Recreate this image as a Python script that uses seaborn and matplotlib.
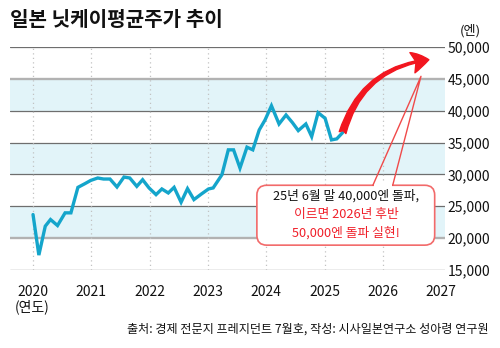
import numpy as np
import pandas as pd
import seaborn as sns
import matplotlib.pyplot as plt
from matplotlib.patches import FancyBboxPatch, FancyArrowPatch, Polygon

# ---------------- data ----------------
years = [2020.00, 2020.10, 2020.21, 2020.30, 2020.42, 2020.55, 2020.65, 2020.77,
         2020.89, 2020.99, 2021.11, 2021.21, 2021.32, 2021.44, 2021.56, 2021.66,
         2021.78, 2021.88, 2021.99, 2022.11, 2022.21, 2022.32, 2022.42, 2022.54,
         2022.65, 2022.76, 2022.89, 2023.01, 2023.09, 2023.24, 2023.35, 2023.44,
         2023.55, 2023.67, 2023.77, 2023.88, 2023.98, 2024.09, 2024.22, 2024.34,
         2024.45, 2024.55, 2024.68, 2024.78, 2024.89, 2025.01, 2025.12, 2025.21,
         2025.31]
prices = [23700, 17340, 21880, 22920, 21980, 23970, 23970, 27970,
          28550, 29060, 29440, 29280, 29280, 28030, 29590, 29440,
          28130, 29170, 27880, 26830, 27720, 27090, 27970, 25630,
          27770, 26050, 26940, 27720, 27880, 29950, 33860, 33860,
          31000, 34280, 33860, 36980, 38550, 40780, 37920, 39330,
          38130, 36880, 37920, 35940, 39690, 38810, 35420, 35580,
          36560]

x_ticks = [2020, 2021, 2022, 2023, 2024, 2025, 2026, 2027]
x_labels = ["2020", "2021", "2022", "2023", "2024", "2025", "2026", "2027"]
y_ticks = [15000, 20000, 25000, 30000, 35000, 40000, 45000, 50000]
y_labels = ["15,000", "20,000", "25,000", "30,000", "35,000", "40,000", "45,000", "50,000"]
band_lows = [20000, 30000, 40000]
light_lines = [20000, 45000]

title = "일본 닛케이평균주가 추이"
unit_label = "(엔)"
year_label = "(연도)"
source = "출처: 경제 전문지 프레지던트 7월호, 작성: 시사일본연구소 성아령 연구원"
callout_lines = ["25년 6월 말 40,000엔 돌파,", "이르면 2026년 후반", "50,000엔 돌파 실현!"]
callout_colors = ["#111111", "#f0202a", "#f0202a"]

target_year, target_value = 2026.79, 48000   # arrow head
pointer_year, pointer_value = 2026.655, 45400  # callout pointer tip

# ---------------- style ----------------
sns.set_theme(style="white")
plt.rcParams["font.family"] = ["Noto Sans CJK KR", "DejaVu Sans"]

line_color = "#14a5cb"
band_color = "#e2f4f9"
red = "#f2161f"

W, H = 500, 348
fig = plt.figure(figsize=(W / 100, H / 100), dpi=100)
ax = fig.add_axes([10 / W, 1 - 270 / H, 435 / W, 223 / H])

ax.set_xlim(2019.605, 2027.067)
ax.set_ylim(15000, 50000)

for lo in band_lows:
    ax.axhspan(lo, lo + 5000, color=band_color, lw=0, zorder=0)
for v in y_ticks:
    if v in light_lines:
        ax.axhline(v, color="#b2b2b2", lw=1.7, zorder=1)
    else:
        ax.axhline(v, color="#6e6e6e", lw=0.9, zorder=1)
for yr in x_ticks[:-1]:
    ax.axvline(yr, color="#c2c2c2", lw=0.9, ls=(0, (1, 2.6)), zorder=1.5)

df = pd.DataFrame({"year": years, "price": prices})
sns.lineplot(data=df, x="year", y="price", color=line_color, lw=2.4, ax=ax,
             zorder=3, sort=False)
for l in ax.lines[-1:]:
    l.set_solid_joinstyle("miter")

for s in ax.spines.values():
    s.set_visible(False)
ax.set_xlabel("")
ax.set_ylabel("")
ax.yaxis.tick_right()
ax.set_yticks(y_ticks)
ax.set_yticklabels(y_labels)
ax.set_xticks(x_ticks)
ax.set_xticklabels(x_labels)
ax.tick_params(axis="y", length=0, pad=2, labelsize=10, colors="#111111")
ax.tick_params(axis="x", length=0, pad=11, labelsize=10, colors="#111111")

# red arrow
arrow = FancyArrowPatch((years[-1], prices[-1]), (target_year, target_value),
                        arrowstyle="fancy,head_length=12,head_width=15,tail_width=5",
                        connectionstyle="arc3,rad=-0.33", color=red,
                        mutation_scale=1, shrinkA=0, shrinkB=0, zorder=4)
ax.add_patch(arrow)

# callout box
bx0, bx1, by0, by1 = 2023.84, 2026.89, 18900, 28300
box = FancyBboxPatch((bx0, by0), bx1 - bx0, by1 - by0,
                     boxstyle="round,pad=0,rounding_size=0.17",
                     mutation_aspect=9109, fc="white", ec="#f26a6a", lw=1.2,
                     zorder=5, clip_on=False)
ax.add_patch(box)
wa, wb = 2025.83, 2026.17
ax.add_patch(Polygon([(wa + 0.02, by1 - 400), (wb - 0.02, by1 - 400),
                      (wb - 0.02, by1 + 300), (wa + 0.02, by1 + 300)],
                     closed=True, fc="white", ec="none", zorder=5.5))
ax.plot([wa, pointer_year, wb], [by1, pointer_value, by1], color="#f04a4a",
        lw=1.0, zorder=6)

for i, (txt, c) in enumerate(zip(callout_lines, callout_colors)):
    fig.text(346 / W, 1 - (196 + 18.3 * i) / H, txt, color=c, fontsize=9.2,
             fontweight="medium", ha="center", va="center", zorder=7)

fig.text(10 / W, 1 - 19 / H, title, fontsize=14.5, fontweight="bold",
         ha="left", va="center", color="#111111")
fig.text(470 / W, 1 - 31 / H, unit_label, fontsize=9.5, ha="center", va="center",
         color="#111111")
fig.text(32.5 / W, 1 - 307 / H, year_label, fontsize=10, ha="center", va="center",
         color="#111111")
fig.text(489 / W, 1 - 329 / H, source, fontsize=8.7, fontweight="medium",
         ha="right", va="center", color="#111111")

fig.savefig("out.png", dpi=100, facecolor="white")
